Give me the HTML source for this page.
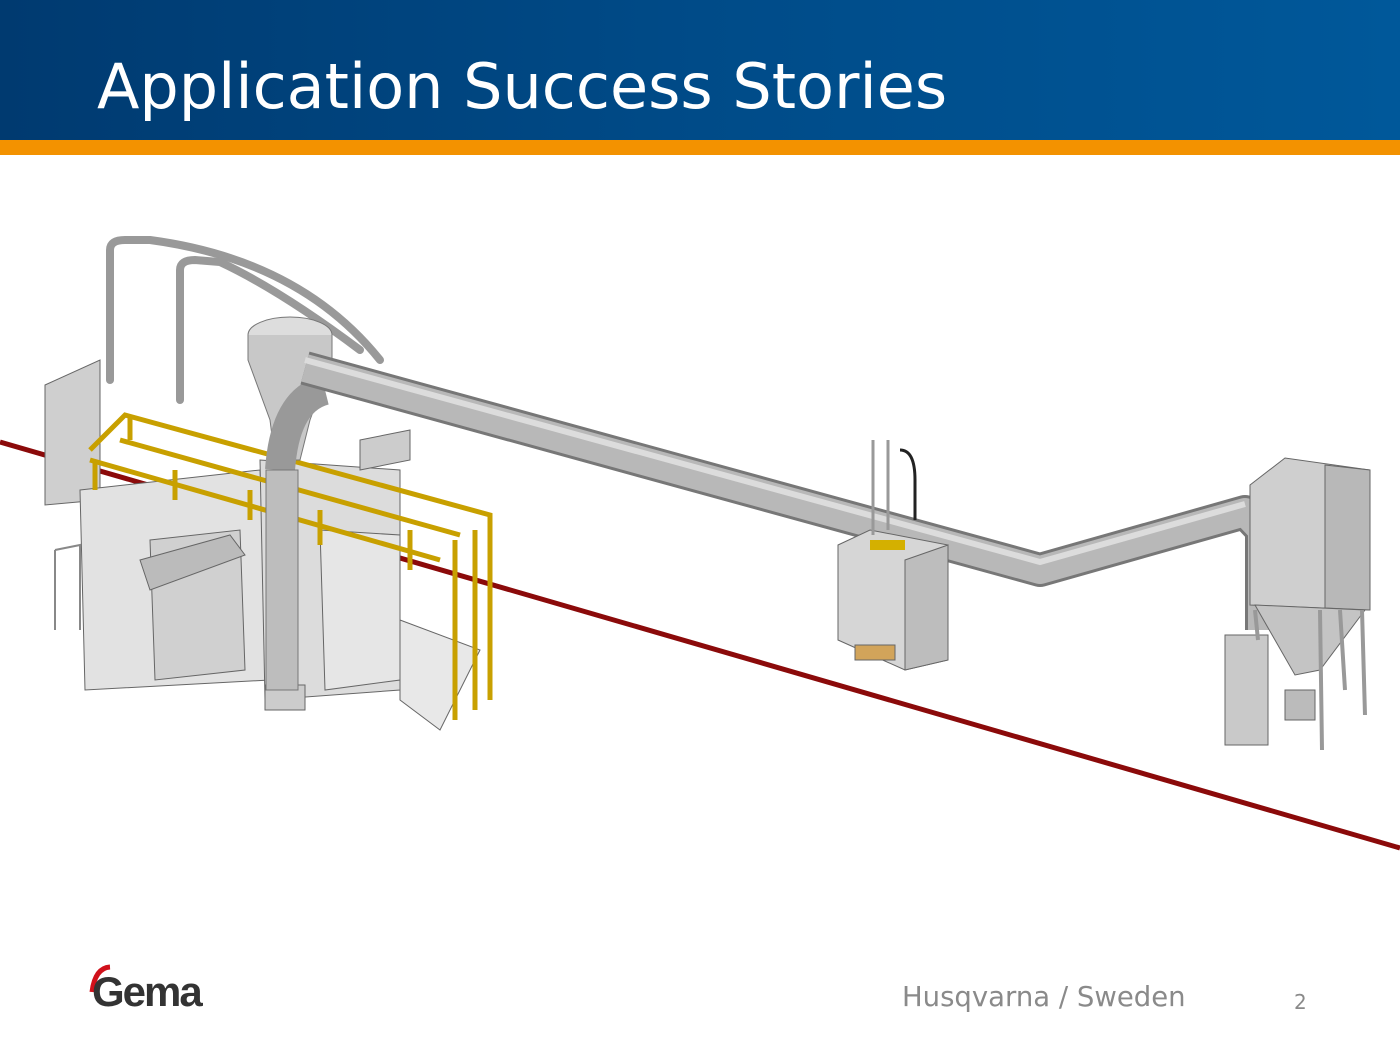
<!DOCTYPE html>
<html><head><meta charset="utf-8"><style>
html,body{margin:0;padding:0;width:1400px;height:1050px;overflow:hidden;background:#fff;font-family:"DejaVu Sans","Liberation Sans",sans-serif}
.hdr{position:absolute;left:0;top:0;width:1400px;height:140px;background:linear-gradient(90deg,#003a70 0%,#004b88 50%,#00589a 100%)}
.or{position:absolute;left:0;top:140px;width:1400px;height:15px;background:#f39200}
.t{position:absolute;left:97px;top:50px;color:#fff;font-size:62px;white-space:nowrap}
svg{position:absolute;left:0;top:0}
.f1{position:absolute;left:902px;top:981px;color:#8a8a8a;font-size:27.5px;white-space:nowrap}
.f2{position:absolute;left:1294px;top:990px;color:#8a8a8a;font-size:20px}
.logo{position:absolute;left:92px;top:968px;font-family:"Liberation Sans",sans-serif;font-size:42px;font-weight:bold;color:#333;letter-spacing:-2px}
</style></head><body>
<div class="hdr"></div><div class="or"></div>
<div class="t">Application Success Stories</div>
<svg width="1400" height="1050" viewBox="0 0 1400 1050">
<line x1="0" y1="442" x2="1400" y2="848" stroke="#8b0a0a" stroke-width="5"/>
<g stroke="#666" stroke-width="1" fill="#d9d9d9">
<path d="M45 385 L100 360 L100 500 L45 505 Z" fill="#cfcfcf"/>
<path d="M80 490 L260 470 L270 680 L85 690 Z" fill="#e2e2e2"/>
<path d="M150 540 L240 530 L245 670 L155 680 Z" fill="#d0d0d0"/>
<path d="M260 460 L400 470 L400 690 L265 700 Z" fill="#dcdcdc"/>
<path d="M320 530 L400 535 L400 680 L325 690 Z" fill="#e6e6e6"/>
<path d="M140 560 L230 535 L245 555 L150 590 Z" fill="#bbb"/>
<path d="M360 440 L410 430 L410 460 L360 470 Z" fill="#ccc"/>
<path d="M400 620 L480 650 L440 730 L400 700 Z" fill="#e8e8e8"/>
<rect x="265" y="685" width="40" height="25" fill="#ccc"/>
</g>
<g stroke="#c8a000" stroke-width="5" fill="none">
<path d="M90 450 L125 415 L490 515 L490 700"/>
<path d="M95 460 L95 490 M130 415 L130 440 M455 540 L455 720 M475 530 L475 710"/>
<path d="M175 470 L175 500 M250 490 L250 520 M320 510 L320 545 M410 530 L410 570"/>
<path d="M90 460 L440 560 M120 440 L460 535"/>
</g>
<g stroke="#888" stroke-width="2" fill="none"><path d="M55 550 L80 545 L80 630 M55 550 L55 630"/></g>
<g stroke="#999" stroke-width="8" fill="none" stroke-linecap="round">
<path d="M110 380 L110 250 Q110 240 125 240 L150 240 Q300 260 380 360"/>
<path d="M180 400 L180 270 Q180 260 195 260 L220 262 Q280 290 360 350"/>
</g>
<ellipse cx="290" cy="335" rx="42" ry="18" fill="#ddd" stroke="#777"/>
<path d="M248 335 L248 360 L270 420 L275 460 L300 460 L310 420 L332 360 L332 335" fill="#c8c8c8" stroke="#777"/>
<path d="M280 470 Q285 400 325 390" stroke="#999" stroke-width="30" fill="none"/>
<rect x="266" y="470" width="32" height="220" fill="#bdbdbd" stroke="#777"/>
<path d="M305 368 L1040 570 L1245 512 L1262 530 L1262 630" stroke="#777" stroke-width="34" fill="none" stroke-linejoin="round"/>
<path d="M305 368 L1040 570 L1245 512 L1262 530 L1262 630" stroke="#b8b8b8" stroke-width="28" fill="none" stroke-linejoin="round"/>
<path d="M305 360 L1040 562 L1245 504" stroke="#dcdcdc" stroke-width="6" fill="none"/>
<g stroke="#666" fill="#d6d6d6">
<path d="M838 545 L870 530 L948 545 L948 660 L905 670 L838 640 Z"/>
<path d="M905 560 L948 545 L948 660 L905 670 Z" fill="#bdbdbd"/>
<rect x="855" y="645" width="40" height="15" fill="#d2a45a"/>
</g>
<g stroke="#999" stroke-width="3" fill="none"><path d="M873 440 L873 535 M888 440 L888 530"/></g>
<path d="M900 450 Q915 450 915 480 L915 520" stroke="#222" stroke-width="3" fill="none"/>
<rect x="870" y="540" width="35" height="10" fill="#d4b000"/>
<g stroke="#666" fill="#cfcfcf">
<path d="M1250 485 L1285 458 L1370 470 L1370 610 L1250 605 Z"/>
<path d="M1325 465 L1370 470 L1370 610 L1325 608 Z" fill="#b8b8b8"/>
<path d="M1255 605 L1365 610 L1320 670 L1295 675 Z" fill="#c4c4c4"/>
<rect x="1225" y="635" width="43" height="110" fill="#c9c9c9"/>
<rect x="1285" y="690" width="30" height="30" fill="#bbb"/>
</g>
<g stroke="#999" stroke-width="4"><path d="M1320 610 L1322 750 M1340 610 L1345 690 M1362 610 L1365 715 M1255 610 L1258 640"/></g>
<path d="M92 992 Q95 968 110 967" stroke="#d0111b" stroke-width="5" fill="none"/>
</svg>
<div class="logo">Gema</div>
<div class="f1">Husqvarna / Sweden</div>
<div class="f2">2</div>
</body></html>
